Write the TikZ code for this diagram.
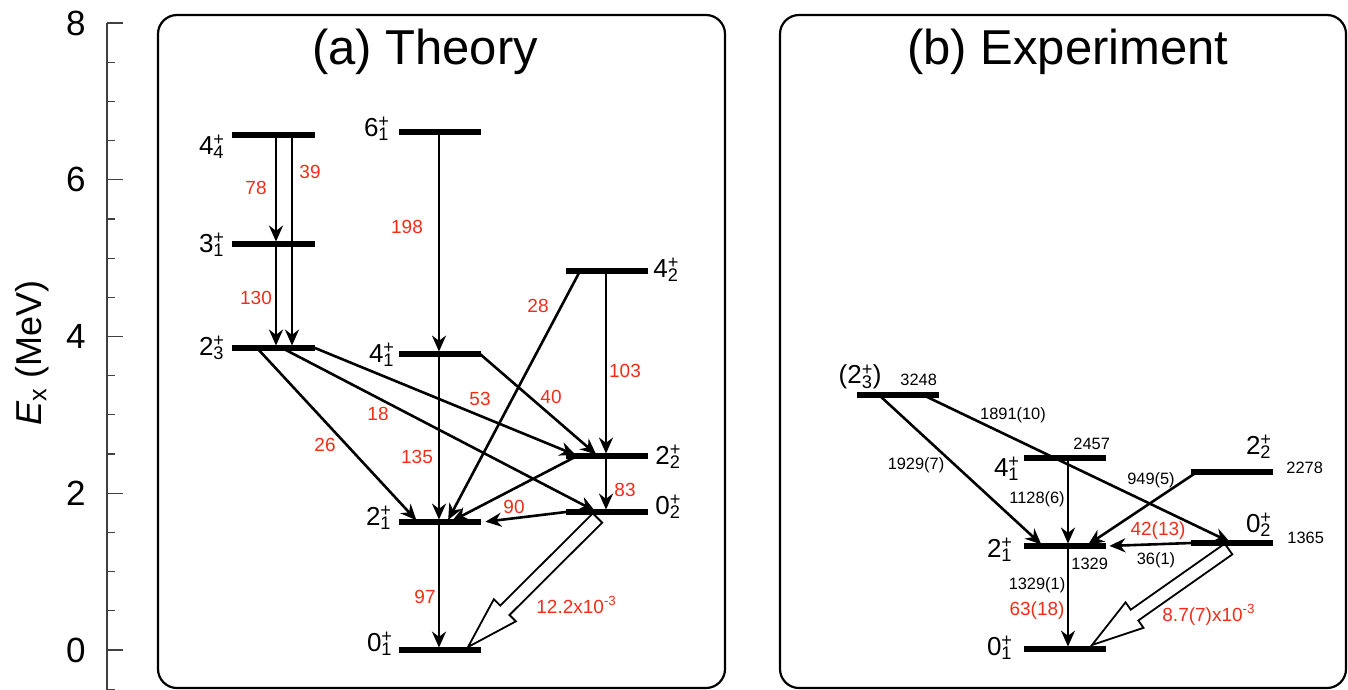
\documentclass[tikz,border=0pt]{standalone}
\usepackage{fontspec}
\setmainfont{Liberation Sans}
\usetikzlibrary{arrows.meta,calc}

\definecolor{valred}{RGB}{240,45,25}
\newcommand{\spin}[2]{#1\rlap{\textsuperscript{+}}\textsubscript{#2}}
% wide open arrow, #1 start, #2 tip (named coordinates)
\newcommand{\wideto}[2]{%
  \coordinate (hb) at ($(#2)!26pt!(#1)$);
  \draw[wide] ($(#1)!3.3pt!90:(#2)$) -- ($(hb)!3.3pt!-90:(#1)$) -- ($(hb)!7.8pt!-90:(#1)$)
    -- (#2) -- ($(hb)!7.8pt!90:(#1)$) -- ($(hb)!3.3pt!90:(#1)$) -- ($(#1)!3.3pt!-90:(#2)$) -- cycle;
}

\tikzset{
  level/.style={line width=2.7pt},
  tr/.style={line width=1.3pt, shorten >=1.2pt, -{Stealth[length=8pt,width=7pt,inset=2.6pt]}},
  wide/.style={line width=0.9pt, fill=white, line join=miter},
  lab/.style={font=\fontsize{13}{15}\selectfont, inner sep=0pt},
  rv/.style={text=valred, font=\fontsize{9.5}{11}\selectfont, inner sep=0pt},
  bv/.style={font=\fontsize{8.2}{10}\selectfont, inner sep=0pt},
  panel/.style={line width=1.1pt, rounded corners=9.5pt},
  ttl/.style={font=\fontsize{24.5}{28}\selectfont, anchor=base},
  axis/.style={line width=0.6pt, black!75},
  ticklab/.style={font=\fontsize{17.5}{20}\selectfont, anchor=east, inner sep=0pt},
}

\begin{document}
\begin{tikzpicture}[x=0.5pt, y=-0.5pt]
    \useasboundingbox (0,0) rectangle (1348,690);

    % Energy axis
    \draw[axis] (107,23) -- (107,690);
    \foreach \k in {-1,...,16}
        \draw[axis] (107,{650-39.1875*\k}) -- ++(8,0);
    \foreach \e in {0,2,4,6,8} {
        \draw[axis] (107,{650-78.375*\e}) -- ++(16,0);
        \node[ticklab] at (86,{650-78.375*\e}) {\e};
    }
    \node[rotate=90, font=\fontsize{18}{20}\selectfont] (ylab) at (32,353) {\textit{E}\textsubscript{x} (MeV)};

    % Panels
    \draw[panel] (158,15) rectangle (725,688);
    \draw[panel] (780,15) rectangle (1346,688);
    \node[ttl] (ttheo) at (425,65) {(a) Theory};
    \node[ttl] (texp) at (1068,65) {(b) Experiment};

    % (a) Theory: wide arrow first, bars on top
    \coordinate (t02) at (566,512);
    \coordinate (t01) at (399,650);
    \coordinate (wa) at ($(t02)+(31.5,6)$);
    \coordinate (wb) at ($(t01)+(69,-3)$);
    \wideto{wa}{wb}

    \draw[level] (232,135) coordinate (t44) -- ++(83,0);
    \draw[level] (232,244) coordinate (t31) -- ++(83,0);
    \draw[level] (232,348) coordinate (t23) -- ++(83,0);
    \draw[level] (399,132) coordinate (t61) -- ++(82,0);
    \draw[level] (399,354) coordinate (t41) -- ++(82,0);
    \draw[level] (399,522) coordinate (t21) -- ++(82,0);
    \draw[level] (t01) -- ++(82,0);
    \draw[level] (566,271) coordinate (t42) -- ++(82,0);
    \draw[level] (566,456) coordinate (t22) -- ++(82,0);
    \draw[level] (t02) -- ++(82,0);

    % Level labels
    \node[lab, anchor=east] (lt44) at (225,147) {\spin{4}{4}};
    \node[lab, anchor=east] (lt31) at (225,245) {\spin{3}{1}};
    \node[lab, anchor=east] (lt23) at (225,348) {\spin{2}{3}};
    \node[lab, anchor=east] (lt61) at (390,129) {\spin{6}{1}};
    \node[lab, anchor=east] (lt41) at (395,355) {\spin{4}{1}};
    \node[lab, anchor=east] (lt21) at (392,518) {\spin{2}{1}};
    \node[lab, anchor=east] (lt01) at (393,644) {\spin{0}{1}};
    \node[lab, anchor=west] (lt42) at (653,270) {\spin{4}{2}};
    \node[lab, anchor=west] (lt22) at (655,457) {\spin{2}{2}};
    \node[lab, anchor=west] (lt02) at (655,507) {\spin{0}{2}};

    % Transitions
    \draw[tr] ($(t44)+(44,0)$) -- ($(t31)+(44,0)$);
    \draw[tr] ($(t44)+(60,0)$) -- ($(t23)+(60,0)$);
    \draw[tr] ($(t31)+(44,0)$) -- ($(t23)+(44,0)$);
    \draw[tr] ($(t61)+(40,0)$) -- ($(t41)+(40,0)$);
    \draw[tr] ($(t41)+(40,0)$) -- ($(t21)+(40,0)$);
    \draw[tr] ($(t21)+(40,0)$) -- ($(t01)+(40,0)$);
    \draw[tr] ($(t42)+(40,0)$) -- ($(t22)+(40,0)$);
    \draw[tr] ($(t22)+(40,0)$) -- ($(t02)+(40,0)$);
    \draw[tr] ($(t42)+(14,0)$) -- ($(t21)+(48,0)$);
    \draw[tr] ($(t41)+(81,0)$) -- ($(t22)+(32,0)$);
    \draw[tr] ($(t23)+(83,0)$) -- ($(t22)+(12,0)$);
    \draw[tr] ($(t23)+(50,0)$) -- ($(t02)+(31,0)$);
    \draw[tr] ($(t23)+(25,0)$) -- ($(t21)+(19,0)$);
    \draw[tr] ($(t22)+(11,0)$) -- ($(t21)+(51,0)$);
    \draw[tr] (t02) -- ($(t21)+(84,0)$);

    % B(E2) values
    \node[rv] at (256,188) {78};
    \node[rv] at (310,172) {39};
    \node[rv] at (407,227) {198};
    \node[rv] at (256,298) {130};
    \node[rv] at (538,306) {28};
    \node[rv] at (625,371) {103};
    \node[rv] at (480,399) {53};
    \node[rv] at (551,397) {40};
    \node[rv] at (378,414) {18};
    \node[rv] at (325,445) {26};
    \node[rv] at (417,457) {135};
    \node[rv] at (625,490) {83};
    \node[rv] at (514,507) {90};
    \node[rv] at (425,597) {97};
    \node[rv, anchor=west] at (536,605) {12.2x10\textsuperscript{-3}};

    % (b) Experiment
    \coordinate (e02) at (1191,543);
    \coordinate (e01) at (1024,649);
    \coordinate (wc) at ($(e02)+(37.5,6)$);
    \coordinate (wd) at ($(e01)+(68,-4)$);
    \wideto{wc}{wd}

    \draw[level] (857,395) coordinate (e23) -- ++(82,0);
    \draw[level] (1024,458) coordinate (e41) -- ++(82,0);
    \draw[level] (1191,472) coordinate (e22) -- ++(82,0);
    \draw[level] (e02) -- ++(82,0);
    \draw[level] (1024,546) coordinate (e21) -- ++(82,0);
    \draw[level] (e01) -- ++(82,0);

    % Level labels and energies (keV)
    \node[lab, anchor=east] (le23) at (882,377) {(\spin{2}{3})};
    \node[bv, anchor=west] at (900,380) {3248};
    \node[lab, anchor=east] (le41) at (1020,469) {\spin{4}{1}};
    \node[bv, anchor=west] at (1073,444) {2457};
    \node[lab, anchor=east] (le22) at (1272,447) {\spin{2}{2}};
    \node[bv, anchor=west] at (1286,468) {2278};
    \node[lab, anchor=east] (le02) at (1272,525) {\spin{0}{2}};
    \node[bv, anchor=west] at (1287,538) {1365};
    \node[lab, anchor=east] (le21) at (1013,550) {\spin{2}{1}};
    \node[bv, anchor=west] at (1071,564) {1329};
    \node[lab, anchor=east] (le01) at (1013,648) {\spin{0}{1}};

    % Transitions
    \draw[tr] ($(e23)+(22,0)$) -- ($(e21)+(19,0)$);
    \draw[tr] ($(e23)+(66,0)$) -- ($(e02)+(41,0)$);
    \draw[tr] ($(e41)+(44,0)$) -- ($(e21)+(44,0)$);
    \draw[tr] ($(e21)+(44,0)$) -- ($(e01)+(44,0)$);
    \draw[tr] ($(e22)+(6,0)$) -- ($(e21)+(62,0)$);
    \draw[tr] (e02) -- ($(e21)+(83,0)$);

    % Intensities and B(E2) values
    \node[bv] at (1013,415) {1891(10)};
    \node[bv] at (916,465) {1929(7)};
    \node[bv] at (1037,499) {1128(6)};
    \node[bv] at (1151,480) {949(5)};
    \node[rv] at (1158,531) {42(13)};
    \node[bv] at (1156,560) {36(1)};
    \node[bv] at (1037,585) {1329(1)};
    \node[rv] at (1037,611) {63(18)};
    \node[rv, anchor=west] at (1162,615) {8.7(7)x10\textsuperscript{-3}};
\end{tikzpicture}
\end{document}
